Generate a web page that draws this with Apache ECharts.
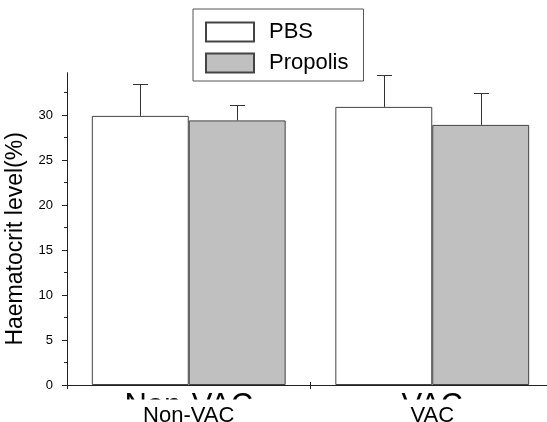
<!DOCTYPE html>
<html><head><meta charset="utf-8">
<script src="https://cdn.jsdelivr.net/npm/echarts@6/dist/echarts.min.js"></script>
<style>html,body{margin:0;padding:0;background:#fff}#c{width:547px;height:422px}</style>
</head><body><div id="c"></div>
<script>
const categories = ['Non-VAC', 'VAC'];
const pbsMean = [29.9, 30.9];
const pbsErr = [3.6, 3.5];
const propMean = [29.4, 28.9];
const propErr = [1.7, 3.5];
const yTicks = [0, 5, 10, 15, 20, 25, 30];
const yMinorTicks = [2.5, 7.5, 12.5, 17.5, 22.5, 27.5, 32.5];

const barFrac = 0.398;
const font = 'Liberation Sans, Arial, sans-serif';

function errSeries(name, means, errs, side) {
  return {
    type: 'custom', name: name, xAxisIndex: 0, yAxisIndex: 0, z: 3,
    data: means.map((m, i) => [i, m, m + errs[i]]),
    encode: { x: 0, y: [1, 2] },
    renderItem: (params, api) => {
      const i = api.value(0);
      const p0 = api.coord([i, api.value(1)]);
      const p1 = api.coord([i, api.value(2)]);
      const band = api.size([1, 0])[0];
      const bw = band * barFrac;
      const x = Math.round(p0[0] + side * bw / 2) + 0.5;
      const y1 = Math.round(p1[1]) + 0.5;
      return { type: 'group', children: [
        { type: 'line', shape: { x1: x, y1: p0[1], x2: x, y2: y1 }, style: { stroke: '#333', lineWidth: 1 } },
        { type: 'line', shape: { x1: x - 7.5, y1: y1, x2: x + 7.5, y2: y1 }, style: { stroke: '#333', lineWidth: 1 } }
      ]};
    }
  };
}

const chart = echarts.init(document.getElementById('c'));
chart.setOption({
  animation: false,
  backgroundColor: '#fff',
  textStyle: { fontFamily: font },
  grid: { left: 67, top: 72.7, width: 487, height: 312.3, containLabel: false, outerBoundsMode: 'none' },
  legend: {
    data: ['PBS', 'Propolis'], orient: 'vertical', left: 193, top: 9,
    borderColor: '#555', borderWidth: 1, padding: [12, 15, 7, 12], itemGap: 9,
    itemWidth: 48, itemHeight: 19, icon: 'rect',
    textStyle: { fontSize: 22, color: '#000', fontFamily: font, padding: [0, 0, 0, 10] }
  },
  xAxis: [{
    type: 'category', data: categories, position: 'bottom', z: 10,
    axisLine: { lineStyle: { color: '#222', width: 1 } },
    axisTick: { show: true, length: 4, lineStyle: { color: '#222' } },
    axisLabel: { fontSize: 22, color: '#000', margin: 20, fontFamily: font },
    splitLine: { show: false }
  }, {
    type: 'category', data: categories, position: 'bottom', z: 1,
    axisLine: { show: false },
    axisTick: { show: true, inside: true, length: 3, lineStyle: { color: '#222' } },
    axisLabel: { fontSize: 31, color: '#000', margin: 6, fontFamily: font },
    splitLine: { show: false }
  }],
  yAxis: [{
    type: 'value', min: 0, max: 34.7, interval: 5,
    name: 'Haematocrit level(%)', nameLocation: 'middle', nameGap: 38,
    nameTextStyle: { fontSize: 23, color: '#000', fontFamily: font, padding: [0, 20, 0, 0] },
    axisLine: { show: true, lineStyle: { color: '#222', width: 1 } },
    axisTick: { show: true, length: 5, customValues: yTicks, lineStyle: { color: '#222' } },
    axisLabel: { fontSize: 13, color: '#000', margin: 14, customValues: yTicks, fontFamily: font },
    splitLine: { show: false }
  }, {
    type: 'value', min: 0, max: 34.7, position: 'left', offset: 0,
    axisLine: { show: false },
    axisTick: { show: true, length: 3, customValues: yMinorTicks, lineStyle: { color: '#222' } },
    axisLabel: { show: false },
    splitLine: { show: false }
  }],
  graphic: {
    elements: [{ type: 'rect', z: 5, shape: { x: 0, y: 399.5, width: 547, height: 30 }, style: { fill: '#fff' } }]
  },
  series: [
    { name: 'PBS', type: 'bar', data: pbsMean, barWidth: (barFrac * 100) + '%', barGap: '0%',
      itemStyle: { color: '#ffffff', borderColor: '#444', borderWidth: 1 } },
    { name: 'Propolis', type: 'bar', data: propMean, barWidth: (barFrac * 100) + '%', barGap: '0%',
      itemStyle: { color: '#c0c0c0', borderColor: '#444', borderWidth: 1 } },
    errSeries('PBS err', pbsMean, pbsErr, -1),
    errSeries('Propolis err', propMean, propErr, 1)
  ]
});
</script></body></html>
